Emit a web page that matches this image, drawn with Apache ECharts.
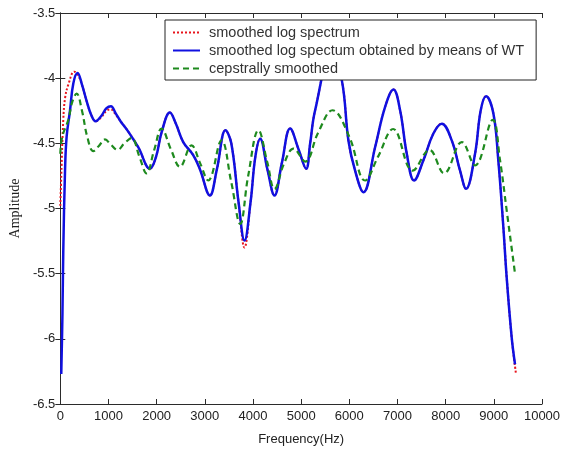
<!DOCTYPE html>
<html>
<head>
<meta charset="utf-8">
<script src="https://cdn.jsdelivr.net/npm/echarts@6/dist/echarts.min.js"></script>
<style>
  html, body { margin: 0; padding: 0; background: #fff; }
  #main { width: 565px; height: 452px; }
</style>
</head>
<body>
<div id="main"></div>
<script>
// smoothed log spectrum (red dotted)
var redFreq = [0, 20, 62, 100, 166, 290, 400, 450, 550, 640, 732, 850, 960, 1052, 1150, 1250, 1411, 1618, 1861, 1990, 2100, 2275, 2400, 2552, 2759, 2900, 3105, 3250, 3430, 3550, 3700, 3824, 3950, 4050, 4149, 4300, 4446, 4600, 4772, 4950, 5104, 5187, 5290, 5637, 5844, 5982, 6120, 6293, 6535, 6743, 6916, 7054, 7193, 7344, 7538, 7745, 7919, 8126, 8299, 8423, 8610, 8728, 8838, 8990, 9093, 9197, 9267, 9371, 9460];
var redAmp = [-4.98, -4.75, -4.32, -4.15, -4.05, -3.95, -4.0, -4.05, -4.18, -4.28, -4.33, -4.3, -4.25, -4.24, -4.28, -4.33, -4.41, -4.53, -4.695, -4.6, -4.42, -4.264, -4.35, -4.49, -4.59, -4.7, -4.9, -4.7, -4.40, -4.5, -4.95, -5.30, -4.95, -4.6, -4.464, -4.7, -4.9, -4.65, -4.387, -4.55, -4.695, -4.5, -4.246, -3.8, -4.015, -4.48, -4.71, -4.875, -4.53, -4.22, -4.087, -4.246, -4.58, -4.785, -4.63, -4.425, -4.349, -4.477, -4.71, -4.849, -4.58, -4.246, -4.138, -4.27, -4.63, -5.14, -5.53, -5.99, -6.27];

// smoothed log spectum obtained by means of WT (blue solid)
var blueFreq = [20, 45, 62, 98, 131, 201, 270, 359, 450, 550, 640, 732, 850, 960, 1052, 1150, 1250, 1411, 1618, 1861, 1990, 2100, 2275, 2400, 2552, 2759, 2900, 3105, 3250, 3430, 3550, 3700, 3824, 3950, 4050, 4149, 4300, 4446, 4600, 4772, 4950, 5104, 5187, 5290, 5637, 5844, 5982, 6120, 6293, 6535, 6743, 6916, 7054, 7193, 7344, 7538, 7745, 7919, 8126, 8299, 8423, 8610, 8728, 8838, 8990, 9093, 9197, 9267, 9371, 9440];
var blueAmp = [-6.27, -5.8, -5.32, -4.71, -4.45, -4.25, -4.04, -3.96, -4.05, -4.18, -4.28, -4.33, -4.29, -4.23, -4.215, -4.27, -4.33, -4.41, -4.53, -4.695, -4.6, -4.42, -4.264, -4.35, -4.49, -4.59, -4.7, -4.9, -4.7, -4.40, -4.5, -4.95, -5.246, -4.95, -4.6, -4.464, -4.7, -4.9, -4.65, -4.387, -4.55, -4.695, -4.5, -4.246, -3.8, -4.015, -4.48, -4.71, -4.875, -4.53, -4.22, -4.087, -4.246, -4.58, -4.785, -4.63, -4.425, -4.349, -4.477, -4.71, -4.849, -4.58, -4.246, -4.138, -4.27, -4.63, -5.14, -5.53, -5.99, -6.195];

// cepstrally smoothed (green dashed)
var greenFreq = [0, 40, 166, 250, 339, 450, 560, 685, 800, 927, 1050, 1189, 1330, 1480, 1640, 1791, 1950, 2102, 2300, 2483, 2724, 2900, 3071, 3347, 3550, 3734, 3900, 4114, 4300, 4446, 4650, 4841, 5083, 5350, 5650, 6000, 6328, 6600, 6909, 7317, 7663, 7967, 8334, 8610, 8977, 9129, 9267, 9440];
var greenAmp = [-4.58, -4.45, -4.32, -4.18, -4.118, -4.25, -4.45, -4.56, -4.52, -4.47, -4.51, -4.55, -4.5, -4.46, -4.6, -4.73, -4.55, -4.387, -4.55, -4.68, -4.515, -4.65, -4.785, -4.477, -4.8, -5.118, -4.75, -4.4, -4.65, -4.85, -4.65, -4.54, -4.64, -4.42, -4.246, -4.45, -4.785, -4.6, -4.39, -4.71, -4.55, -4.73, -4.49, -4.67, -4.32, -4.63, -5.015, -5.5];

var seriesNames = ['smoothed log spectrum', 'smoothed log spectum obtained by means of WT', 'cepstrally smoothed'];
var xTicks = [0, 10000, 1000];
var yTicks = [-6.5, -3.5, 0.5];

function pairs(xs, ys) {
  var out = [];
  for (var i = 0; i < xs.length; i++) out.push([xs[i], ys[i]]);
  return out;
}

var axisColor = '#2b2b2b';
var tickFont = { color: '#222', fontSize: 13, fontFamily: 'Liberation Sans, Arial, sans-serif' };

var chart = echarts.init(document.getElementById('main'), null, { renderer: 'canvas' });

var option = {
  backgroundColor: '#fff',
  animation: false,
  grid: { left: 60, right: 23, top: 13, bottom: 48 },
  legend: {
    orient: 'vertical',
    left: 165,
    top: 20,
    padding: [5, 12, 4, 7],
    itemWidth: 27,
    itemHeight: 14,
    itemGap: 3,
    backgroundColor: '#fff',
    borderColor: '#222',
    borderWidth: 1,
    // hide the circle marker, keep only the line sample
    itemStyle: { color: 'transparent', borderColor: 'transparent', borderWidth: 0, opacity: 0 },
    textStyle: { color: '#333', fontSize: 14.5, fontFamily: 'Liberation Sans, Arial, sans-serif', padding: [0, 0, 0, 4] },
    data: seriesNames
  },
  xAxis: [{
    type: 'value',
    min: xTicks[0], max: xTicks[1], interval: xTicks[2],
    position: 'bottom',
    name: 'Frequency(Hz)',
    nameLocation: 'middle',
    nameGap: 29,
    nameTextStyle: { color: '#222', fontSize: 13, fontFamily: 'Liberation Sans, Arial, sans-serif' },
    axisLine: { lineStyle: { color: axisColor, width: 1 } },
    axisTick: { inside: true, length: 5, lineStyle: { color: axisColor } },
    axisLabel: Object.assign({ margin: 6, formatter: function (v) { return String(v); } }, tickFont),
    splitLine: { show: false }
  }, {
    type: 'value',
    min: xTicks[0], max: xTicks[1], interval: xTicks[2],
    position: 'top',
    axisLine: { lineStyle: { color: axisColor, width: 1 } },
    axisTick: { inside: true, length: 5, lineStyle: { color: axisColor } },
    axisLabel: { show: false },
    splitLine: { show: false }
  }],
  yAxis: [{
    type: 'value',
    min: yTicks[0], max: yTicks[1], interval: yTicks[2],
    position: 'left',
    name: 'Amplitude',
    nameLocation: 'middle',
    nameGap: 30,
    nameTextStyle: { color: '#222', fontSize: 14, fontFamily: 'Liberation Serif, Times New Roman, serif' },
    axisLine: { lineStyle: { color: axisColor, width: 1 } },
    axisTick: { inside: true, length: 5, lineStyle: { color: axisColor } },
    axisLabel: Object.assign({ margin: 5 }, tickFont),
    splitLine: { show: false }
  }, {
    type: 'value',
    min: yTicks[0], max: yTicks[1], interval: yTicks[2],
    position: 'right',
    axisLine: { lineStyle: { color: axisColor, width: 1 } },
    axisTick: { inside: true, length: 5, lineStyle: { color: axisColor } },
    axisLabel: { show: false },
    splitLine: { show: false }
  }],
  series: [{
    name: seriesNames[0],
    type: 'line',
    data: pairs(redFreq, redAmp),
    symbol: 'none',
    smooth: 0.4,
    lineStyle: { color: '#e8141c', width: 2, type: [2, 2] },
    itemStyle: { color: '#e8141c' },
    z: 2
  }, {
    name: seriesNames[1],
    type: 'line',
    data: pairs(blueFreq, blueAmp),
    symbol: 'none',
    smooth: 0.4,
    lineStyle: { color: '#1010e0', width: 2.5 },
    itemStyle: { color: '#1010e0' },
    z: 3
  }, {
    name: seriesNames[2],
    type: 'line',
    data: pairs(greenFreq, greenAmp),
    symbol: 'none',
    smooth: 0.4,
    lineStyle: { color: '#1e8a1e', width: 2.2, type: [6, 4] },
    itemStyle: { color: '#1e8a1e' },
    z: 4
  }]
};

chart.setOption(option);
</script>
</body>
</html>
